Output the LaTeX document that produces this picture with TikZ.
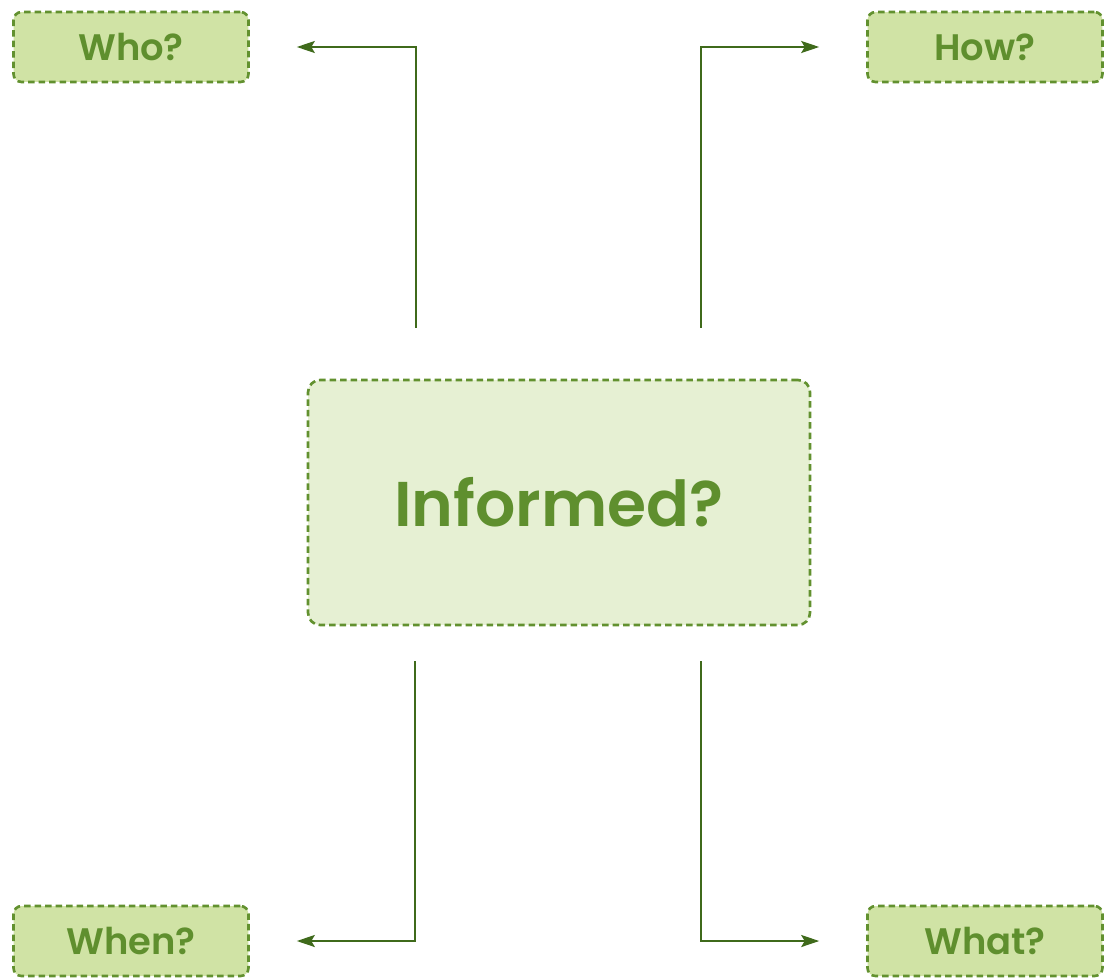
\documentclass[tikz,border=0pt]{standalone}
\usepackage{fontspec}
\setmainfont{Poppins}[UprightFont={* SemiBold}]
\usetikzlibrary{arrows.meta, positioning}
\definecolor{boxgreen}{HTML}{D0E3A5}
\definecolor{palegreen}{HTML}{E6F0D3}
\definecolor{edgegreen}{HTML}{62912F}
\definecolor{textgreen}{HTML}{5F8F2E}
\definecolor{arrowgreen}{HTML}{3F6A1B}
\tikzset{%
	question/.style={
		rectangle,
		rounded corners=0.16cm,
		draw=edgegreen,
		fill=boxgreen,
		line width=1.5pt,
		dash pattern=on 0.13cm off 0.08cm,
		minimum width=4.7cm,
		minimum height=1.4cm,
		inner sep=0pt,
		text=textgreen,
		font=\fontsize{21}{25}\selectfont
	},
	topic/.style={
		question,
		rounded corners=0.24cm,
		fill=palegreen,
		minimum width=10.04cm,
		minimum height=4.9cm,
		font=\fontsize{36}{42}\selectfont
	},
	link/.style={
		draw=arrowgreen,
		line width=1.3pt,
		-{Stealth[length=0.36cm, width=0.24cm, inset=0.07cm]}
	},
}

\begin{document}
\begin{tikzpicture}[x=0.02cm, y=-0.02cm]
	\useasboundingbox (0,0) rectangle (1104,977);
	
	% Nodes
	\node[topic] (informed) at (559,502.5) {Informed?};
	\node[question] (who) at (131,47) {Who?};
	\node[question] (how) at (985,47) {How?};
	\node[question] (when) at (131,941) {When?};
	\node[question] (what) at (985,941) {What?};
	
	% Connectors
	\draw[link] ([xshift=2.18cm, yshift=1.02cm]informed.north west) |- ([xshift=0.94cm]who.east);
	\draw[link] ([xshift=-2.2cm, yshift=1.02cm]informed.north east) |- ([xshift=-0.94cm]how.west);
	\draw[link] ([xshift=2.16cm, yshift=-0.7cm]informed.south west) |- ([xshift=0.94cm]when.east);
	\draw[link] ([xshift=-2.2cm, yshift=-0.7cm]informed.south east) |- ([xshift=-0.94cm]what.west);
	
\end{tikzpicture}
\end{document}
